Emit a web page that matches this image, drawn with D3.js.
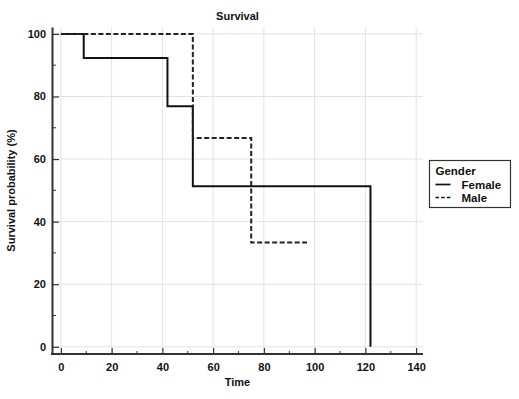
<!DOCTYPE html>
<html>
<head>
<meta charset="utf-8">
<script src="https://cdn.jsdelivr.net/npm/d3@7"></script>
<style>
  body { margin: 0; background: #fff; }
  text { font-family: "Liberation Sans", Arial, sans-serif; font-weight: bold; fill: #111; }
</style>
</head>
<body>
<div id="chart"></div>
<script>
// Kaplan-Meier steps
const femaleTime = [0, 9, 42, 52, 122];
const femaleSurv = [100, 92.3, 76.9, 51.3, 0];
const maleTime = [0, 52, 75, 97];
const maleSurv = [100, 66.7, 33.3, 33.3];
const xTicks = [0, 20, 40, 60, 80, 100, 120, 140];
const yTicks = [0, 20, 40, 60, 80, 100];
const xMinor = [10, 30, 50, 70, 90, 110, 130];
const yMinor = [10, 30, 50, 70, 90];
const groups = ["Female", "Male"];

const width = 519, height = 399;
const margin = { top: 27, right: 96, bottom: 45, left: 52 };

const svg = d3.select('#chart').append('svg')
  .attr('width', width)
  .attr('height', height);

const x = d3.scaleLinear()
  .domain([-3.5, 142.7])
  .range([margin.left, width - margin.right]);

const y = d3.scaleLinear()
  .domain([-2.3, 102.2])
  .range([height - margin.bottom, margin.top]);

// grid
svg.append('g').selectAll('line')
  .data(xTicks).enter().append('line')
  .attr('x1', d => x(d)).attr('x2', d => x(d))
  .attr('y1', y.range()[1]).attr('y2', y.range()[0])
  .attr('stroke', '#e2e2e2').attr('stroke-width', 1);
svg.append('g').selectAll('line')
  .data(yTicks).enter().append('line')
  .attr('y1', d => y(d)).attr('y2', d => y(d))
  .attr('x1', x.range()[0]).attr('x2', x.range()[1])
  .attr('stroke', '#e2e2e2').attr('stroke-width', 1);

// axes (ticks pointing inward)
const xAxis = svg.append('g')
  .attr('transform', `translate(0,${y.range()[0]})`)
  .call(d3.axisBottom(x).tickValues(xTicks).tickSizeInner(-6).tickSizeOuter(0).tickPadding(9));
svg.append('g').selectAll('line')
  .data(xMinor).enter().append('line')
  .attr('x1', d => x(d)).attr('x2', d => x(d))
  .attr('y1', y.range()[0]).attr('y2', y.range()[0] - 3)
  .attr('stroke', '#333').attr('stroke-width', 1);

const yAxis = svg.append('g')
  .attr('transform', `translate(${x.range()[0]},0)`)
  .call(d3.axisLeft(y).tickValues(yTicks).tickSizeInner(-7).tickSizeOuter(0).tickPadding(6));
svg.append('g').selectAll('line')
  .data(yMinor).enter().append('line')
  .attr('y1', d => y(d)).attr('y2', d => y(d))
  .attr('x1', x.range()[0]).attr('x2', x.range()[0] + 4)
  .attr('stroke', '#333').attr('stroke-width', 1);

[xAxis, yAxis].forEach(a => {
  a.select('.domain').attr('stroke', '#333').attr('stroke-width', 2);
  a.selectAll('.tick line').attr('stroke', '#333').attr('stroke-width', 1.2);
  a.selectAll('.tick text').style('font-size', '11px').style('font-weight', 'bold')
    .style('font-family', '"Liberation Sans", Arial, sans-serif').attr('fill', '#111');
});
// make the axis lines meet at the corner
xAxis.select('.domain').attr('d', `M${x.range()[0] - 1},0H${x.range()[1]}`);

// survival curves
const step = d3.line().curve(d3.curveStepAfter).x(d => x(d[0])).y(d => y(d[1]));
svg.append('path')
  .datum(d3.zip(femaleTime, femaleSurv))
  .attr('d', step)
  .attr('fill', 'none').attr('stroke', '#111').attr('stroke-width', 2);
svg.append('path')
  .datum(d3.zip(maleTime, maleSurv))
  .attr('d', step)
  .attr('fill', 'none').attr('stroke', '#222').attr('stroke-width', 2)
  .attr('stroke-dasharray', '5,2.5');

// titles
svg.append('text')
  .attr('x', (x.range()[0] + x.range()[1]) / 2).attr('y', 20)
  .attr('text-anchor', 'middle').style('font-size', '11px')
  .text('Survival');
svg.append('text')
  .attr('x', (x.range()[0] + x.range()[1]) / 2).attr('y', 386)
  .attr('text-anchor', 'middle').style('font-size', '11px')
  .text('Time');
svg.append('text')
  .attr('transform', `translate(15,${(y.range()[0] + y.range()[1]) / 2}) rotate(-90)`)
  .attr('text-anchor', 'middle').style('font-size', '11px')
  .text('Survival probability (%)');

// legend
const lg = svg.append('g').attr('transform', 'translate(429.5,160.5)');
lg.append('rect')
  .attr('width', 81).attr('height', 47)
  .attr('fill', '#fff').attr('stroke', '#333').attr('stroke-width', 1.2);
lg.append('text').attr('x', 6).attr('y', 14).style('font-size', '11.5px')
  .text('Gender');
lg.selectAll('g.item')
  .data(groups).enter().append('g')
  .attr('transform', (d, i) => `translate(6,${24 + i * 13})`)
  .each(function(d, i) {
    const g = d3.select(this);
    g.append('line').attr('x1', 0).attr('x2', 15).attr('y1', 0).attr('y2', 0)
      .attr('stroke', '#111').attr('stroke-width', 1.7)
      .attr('stroke-dasharray', i ? '3.5,2.2' : null);
    g.append('text').attr('x', 26).attr('y', 4).style('font-size', '11.5px').text(d);
  });
</script>
</body>
</html>
